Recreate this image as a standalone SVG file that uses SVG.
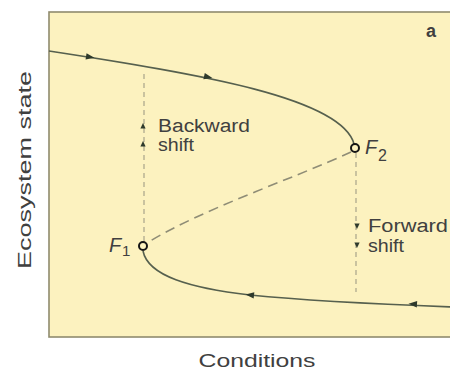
<svg xmlns="http://www.w3.org/2000/svg" xmlns:xlink="http://www.w3.org/1999/xlink" width="450" height="371" viewBox="0 0 450 371">
  <style>
    .lbl { font-family: "Liberation Sans", Arial, sans-serif; fill: #404040; }
    .curve { fill: none; stroke: #56604e; stroke-width: 1.6; }
    .dash { fill: none; stroke: #8f8d76; stroke-width: 1.6; stroke-dasharray: 10 6; }
    .vdash { fill: none; stroke: #a8a48a; stroke-width: 1.2; stroke-dasharray: 5 4; }
    .ah { fill: #2e3a2c; }
    .fp { fill: #fcf2bf; stroke: #151515; stroke-width: 2; }
  </style>
  <defs>
    <path id="ah" d="M4.5,0 L-4,-3.2 L-4,3.2 Z"/>
    <path id="sa" d="M0,-3 L2.6,2.5 L-2.6,2.5 Z"/>
  </defs>
  <rect x="0" y="0" width="450" height="371" fill="#ffffff"/>
  <g id="panel">
    <rect x="49" y="12" width="420" height="325" fill="#fcf2bf" stroke="#8f8b6e" stroke-width="1.6"/>
    <text class="lbl" x="426" y="37" font-size="18" font-weight="bold" fill="#222">a</text>
  </g>
  <g id="axes-labels">
    <text class="lbl" x="257" y="367" font-size="19" text-anchor="middle" textLength="117" lengthAdjust="spacingAndGlyphs">Conditions</text>
    <text class="lbl" transform="translate(31,170) rotate(-90)" x="0" y="0" font-size="19" text-anchor="middle" textLength="198" lengthAdjust="spacingAndGlyphs">Ecosystem state</text>
  </g>
  <g id="connectors">
    <path id="upper" class="curve" d="M49,51 C200,74 342,98 354,144"/>
    <path id="lower" class="curve" d="M143,251 C148,276 190,288 250,295 C320,302 400,305 452,307"/>
    <path id="unstable" class="dash" d="M351,152 C290,180 200,210 147,243"/>
    <line class="vdash" x1="144" y1="74" x2="144" y2="242"/>
    <line class="vdash" x1="356" y1="153" x2="356" y2="292"/>
    <use xlink:href="#ah" class="ah" transform="translate(90,57) rotate(9)"/>
    <use xlink:href="#ah" class="ah" transform="translate(208,77) rotate(13)"/>
    <use xlink:href="#ah" class="ah" transform="translate(250,295) rotate(186)"/>
    <use xlink:href="#ah" class="ah" transform="translate(413,304) rotate(183)"/>
  </g>
  <g id="backward-shift">
    <use xlink:href="#sa" class="ah" transform="translate(143,126)"/>
    <use xlink:href="#sa" class="ah" transform="translate(143,144)"/>
    <text class="lbl" x="158" y="132" font-size="18" textLength="92" lengthAdjust="spacingAndGlyphs">Backward</text>
    <text class="lbl" x="158" y="151" font-size="18" textLength="36" lengthAdjust="spacingAndGlyphs">shift</text>
  </g>
  <g id="forward-shift">
    <use xlink:href="#sa" class="ah" transform="translate(357,226) rotate(180)"/>
    <use xlink:href="#sa" class="ah" transform="translate(357,245) rotate(180)"/>
    <text class="lbl" x="368" y="232" font-size="18" textLength="80" lengthAdjust="spacingAndGlyphs">Forward</text>
    <text class="lbl" x="368" y="252" font-size="18" textLength="36" lengthAdjust="spacingAndGlyphs">shift</text>
  </g>
  <g id="F2">
    <circle class="fp" cx="355" cy="148" r="4"/>
    <text class="lbl" x="365" y="154" font-size="20" font-style="italic">F</text>
    <text class="lbl" x="378" y="161" font-size="16">2</text>
  </g>
  <g id="F1">
    <circle class="fp" cx="143" cy="246" r="4"/>
    <text class="lbl" x="109" y="252" font-size="20" font-style="italic">F</text>
    <text class="lbl" x="122" y="256" font-size="15">1</text>
  </g>
</svg>
